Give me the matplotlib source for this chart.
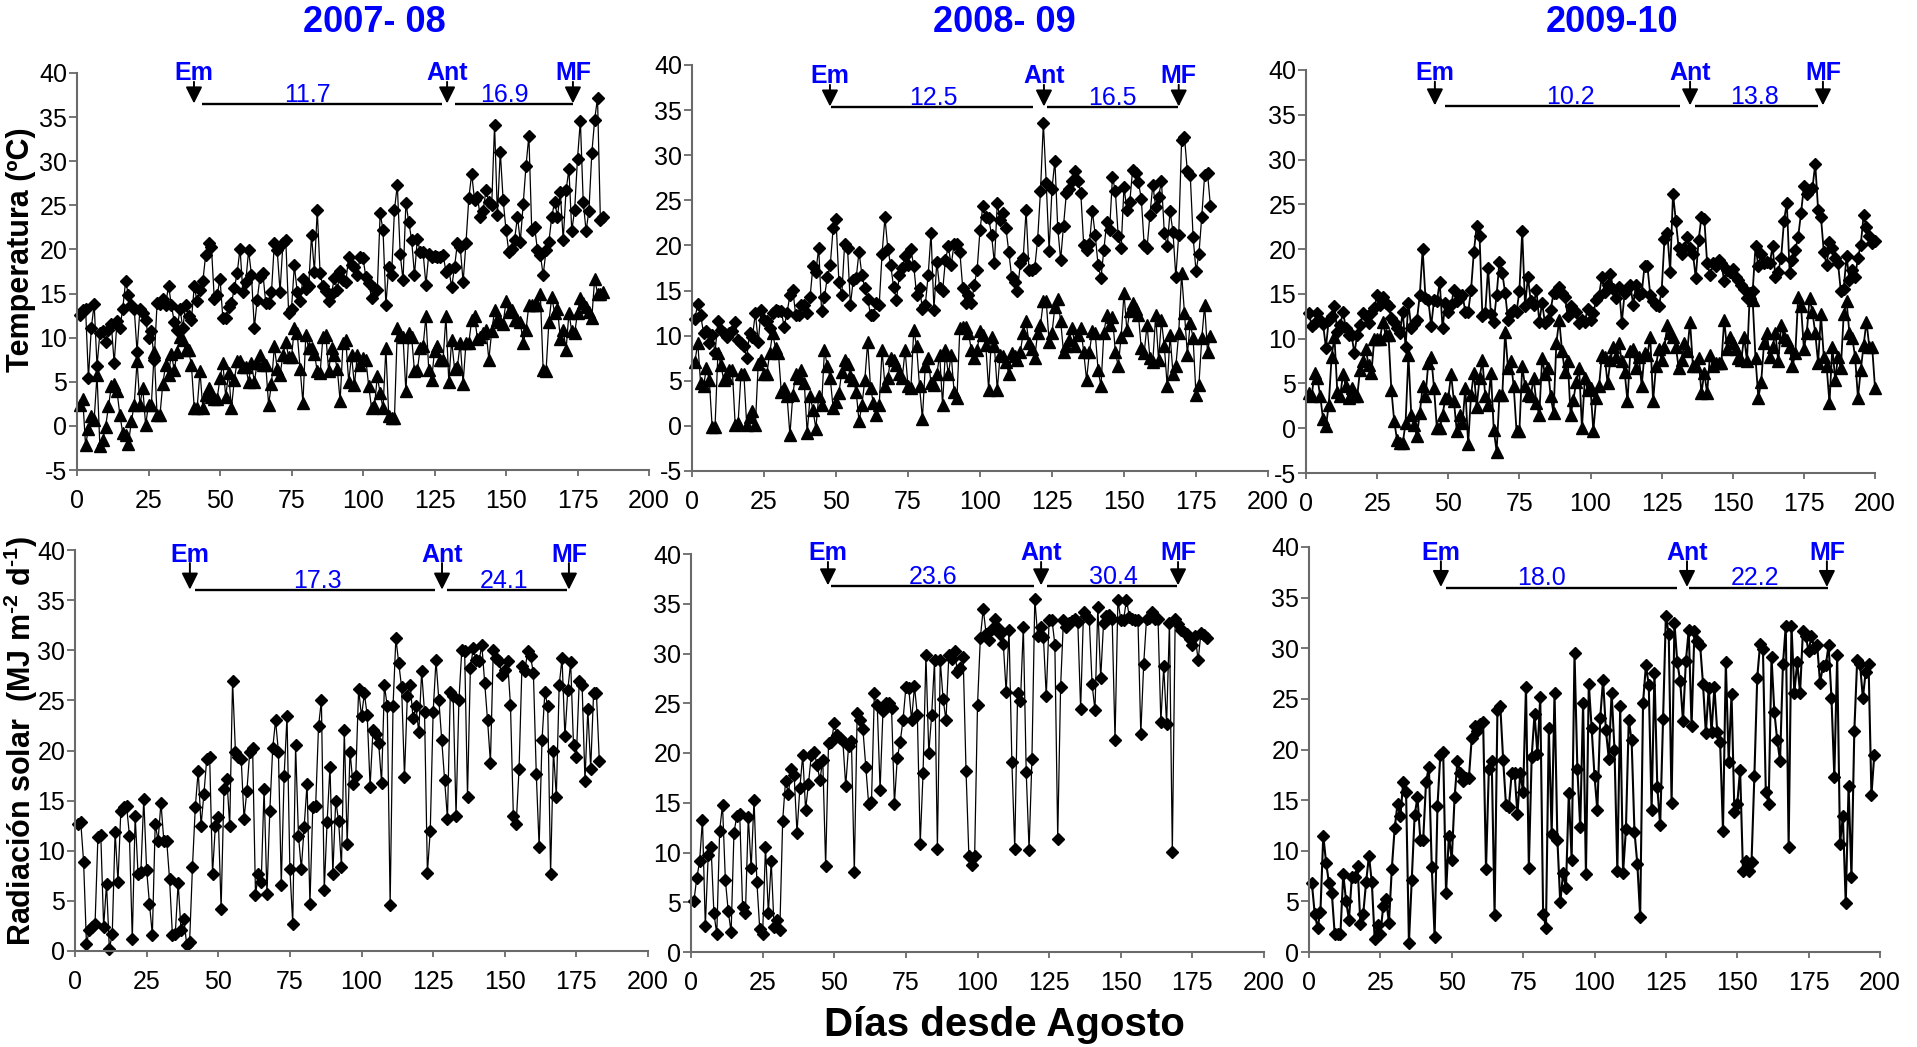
import numpy as np
import matplotlib
matplotlib.use("Agg")
import matplotlib.pyplot as plt

plt.rcParams['font.family'] = ['Liberation Sans', 'DejaVu Sans']
plt.rcParams['mathtext.fontset'] = 'custom'
plt.rcParams['mathtext.rm'] = 'Liberation Sans'
plt.rcParams['mathtext.bf'] = 'Liberation Sans:bold'
plt.rcParams['mathtext.default'] = 'bf'
plt.rcParams['axes.unicode_minus'] = False

# ---------------- data ----------------
seasons = ["2007- 08", "2008- 09", "2009-10"]

tmax_0708 = [12.6,13.1,13.3,5.4,11.1,13.8,6.8,10.5,10.7,9.5,
 10.9,11.5,7.1,11.9,11.1,13.3,16.4,14.8,13.7,13.3,
 8.4,13.2,12.8,12.0,10.0,10.7,7.5,13.9,13.8,14.4,
 13.7,15.9,13.7,11.8,10.9,13.3,11.1,13.7,12.4,12.0,
 15.8,14.1,15.4,16.4,19.4,20.7,20.3,14.4,14.8,16.7,
 12.2,12.2,13.5,13.9,15.6,17.3,20.1,15.2,16.3,19.9,
 17.1,11.1,14.3,16.9,17.3,13.9,13.9,15.2,20.7,19.9,
 15.2,20.7,21.1,12.8,13.3,18.2,15.2,14.1,16.7,15.5,
 15.8,21.6,17.5,24.5,17.3,15.8,15.3,14.1,15.0,16.8,
 15.4,17.6,16.5,16.3,19.2,18.2,18.0,17.1,19.2,19.0,
 16.9,16.2,14.5,15.6,15.4,24.1,22.2,13.7,18.0,17.1,
 24.5,27.3,19.5,16.5,25.3,23.1,21.1,17.1,21.2,19.7,
 19.7,16.0,19.5,19.2,19.3,19.2,19.2,19.4,17.5,17.8,
 15.7,18.0,20.7,20.3,16.3,20.7,25.8,28.6,25.6,26.0,
 23.7,24.4,26.7,25.4,25.0,34.1,23.9,31.1,25.6,22.2,
 19.7,20.1,21.1,23.7,20.9,25.1,29.5,32.9,22.2,22.6,
 19.9,19.4,17.1,19.9,20.9,23.7,25.4,23.7,26.5,21.1,
 26.7,29.1,22.1,24.5,30.3,34.6,25.4,22.1,24.4,30.9,
 34.7,37.2,23.3,23.7]

tmin_0708 = [2.4,3.1,-2.2,-0.3,1.1,0.7,5.8,-2.3,-1.6,-0.1,
 2.2,4.5,4.8,3.9,1.2,-0.8,-1.0,-2.0,0.5,2.4,
 7.3,2.4,4.3,0.1,2.4,2.4,8.4,1.2,1.2,4.8,
 6.9,5.8,8.2,6.3,8.4,10.1,9.7,8.6,8.6,6.9,
 2.0,2.0,6.2,2.0,3.5,4.3,3.3,3.1,3.1,5.4,
 7.1,3.3,6.0,2.0,5.2,7.3,7.3,6.7,6.7,5.0,
 7.1,5.0,7.1,8.0,6.9,6.9,2.4,4.8,9.0,6.5,
 5.8,8.0,9.5,7.8,7.8,11.1,10.5,6.5,2.6,10.3,
 8.8,8.8,8.2,6.2,6.0,10.1,10.3,6.2,8.8,8.0,
 6.5,2.8,9.4,9.7,5.0,8.0,4.6,8.0,6.9,7.7,
 7.5,4.5,2.0,2.2,5.6,3.7,2.0,8.8,1.1,0.9,
 0.9,11.1,10.3,10.1,3.9,10.5,10.1,6.2,6.3,8.8,
 9.0,12.4,6.3,5.2,8.5,9.0,7.5,7.5,12.4,5.0,
 9.7,6.5,6.7,9.4,4.8,9.4,9.4,12.0,12.4,9.9,
 10.1,10.5,10.9,7.5,10.7,13.1,12.0,11.8,11.6,14.1,
 12.9,13.1,12.0,12.0,11.8,9.4,10.9,13.7,13.7,13.7,
 13.7,15.0,6.3,6.2,11.8,14.6,12.8,13.3,9.9,10.9,
 8.6,12.8,10.7,10.5,12.8,14.5,13.9,13.5,12.9,12.2,
 16.7,15.0,15.0,15.2]

tmax_0809 = [11.9,13.5,12.3,10.3,10.5,9.2,10.1,8.1,11.6,10.6,
 10.3,9.9,10.3,10.5,11.5,9.5,9.2,8.8,7.5,10.3,
 9.9,12.5,9.3,12.9,11.7,11.6,10.8,12.5,12.9,12.7,
 12.7,11.0,12.5,14.5,15.1,12.3,12.3,13.4,13.4,12.5,
 14.3,17.7,17.1,19.7,12.7,14.3,16.5,17.8,21.9,22.9,
 16.0,14.5,20.2,19.7,13.4,16.2,16.4,19.3,16.7,15.3,
 14.1,12.3,12.3,13.6,13.4,19.1,23.1,19.6,17.8,15.4,
 14.0,16.7,17.5,18.8,17.8,19.6,17.7,14.5,15.3,13.0,
 13.4,16.7,21.4,12.9,18.2,15.3,14.9,18.4,19.9,17.8,
 20.2,20.2,19.3,15.3,13.6,14.5,13.6,15.6,17.3,21.7,
 24.4,23.2,23.0,21.2,18.0,24.7,22.8,23.6,21.9,19.3,
 16.5,16.0,14.9,18.0,18.6,23.9,17.3,17.3,17.5,20.6,
 26.0,33.6,26.9,19.4,26.3,29.4,21.9,18.4,22.2,25.8,
 26.3,27.1,28.2,27.1,25.8,20.1,19.5,20.2,23.8,21.2,
 17.8,16.4,19.5,22.6,21.7,27.6,26.0,21.0,19.7,26.5,
 23.9,24.8,28.4,28.0,27.0,25.2,20.1,19.7,23.4,26.7,
 24.3,25.4,27.1,21.4,19.9,23.8,21.5,16.5,21.2,31.7,
 32.0,28.2,27.8,20.9,17.2,19.0,23.2,27.8,28.0,24.4]

tmin_0809 = [7.1,9.2,4.7,4.4,6.4,5.1,-0.1,-0.1,8.1,6.8,
 5.1,5.3,6.2,6.2,0.1,0.3,5.7,5.8,0.1,1.0,
 1.6,0.1,6.9,7.3,5.8,5.8,8.1,10.3,8.6,8.1,
 3.8,4.2,3.3,-1.0,3.4,5.8,5.3,6.2,4.7,-0.8,
 3.3,1.8,-0.3,3.3,2.3,8.4,6.6,5.3,2.0,2.7,
 3.6,6.0,7.3,6.9,5.5,5.1,3.8,0.5,2.3,5.1,
 9.3,4.2,2.5,1.2,2.3,8.4,4.4,5.3,7.5,7.3,
 6.8,5.7,5.3,8.4,4.4,4.2,10.6,8.8,4.4,0.8,
 6.6,7.5,4.7,4.5,5.7,7.9,2.3,8.4,5.7,7.9,
 3.8,3.1,10.8,11.0,11.0,10.3,8.4,7.5,8.4,10.5,
 10.1,9.0,4.0,9.9,8.8,4.0,7.9,7.7,7.1,5.8,
 8.1,7.7,7.3,8.2,10.3,11.6,9.2,8.5,7.5,10.3,
 11.2,13.8,13.8,9.3,10.3,13.2,14.1,11.6,8.2,8.8,
 9.5,10.8,8.8,10.1,10.8,8.2,5.1,8.2,10.5,10.3,
 6.2,4.4,10.3,12.3,11.2,12.1,8.2,6.6,9.9,14.7,
 10.6,12.7,13.6,13.0,12.3,8.6,8.1,11.2,7.5,7.1,
 12.3,7.3,11.7,8.8,4.4,10.1,5.8,6.6,10.3,16.9,
 12.5,7.9,11.4,9.7,3.4,4.5,9.7,13.4,8.2,10.0]

tmax_0910 = [12.9,11.4,11.8,12.9,12.1,11.6,9.0,12.1,12.5,13.6,
 10.8,11.5,13.0,11.2,10.4,10.4,8.4,10.4,11.5,12.9,
 12.5,11.7,12.9,13.4,14.9,13.8,14.7,14.0,13.6,12.3,
 11.9,11.2,10.6,13.0,9.1,14.0,11.2,11.6,12.1,14.9,
 20.0,14.5,14.3,11.4,14.3,14.2,16.3,11.2,14.0,13.0,
 13.8,15.4,14.2,14.5,14.9,13.0,13.0,15.4,19.7,22.6,
 21.5,12.5,12.9,17.9,12.7,11.9,14.9,18.6,17.3,15.1,
 12.1,12.9,13.2,13.0,15.3,22.0,13.6,16.9,14.2,13.8,
 15.4,11.9,14.0,11.7,12.1,13.2,15.1,15.1,15.8,15.1,
 14.7,12.5,13.7,13.2,13.0,11.7,12.1,11.9,13.3,12.1,
 12.9,14.3,14.8,16.9,15.2,16.0,17.2,15.5,14.5,15.8,
 11.8,15.1,15.5,16.0,13.8,16.0,14.9,15.1,18.1,18.1,
 14.9,14.2,13.8,13.6,15.3,21.1,21.8,17.5,26.2,23.1,
 20.1,19.5,20.1,21.3,20.1,19.5,16.8,21.0,23.6,23.4,
 18.4,17.1,18.4,18.1,18.8,18.4,16.4,17.7,17.5,17.8,
 16.9,16.6,16.0,15.5,14.5,15.1,15.3,20.3,18.1,19.5,
 18.4,18.6,18.4,20.3,16.9,17.5,19.0,23.1,25.2,17.3,
 18.8,19.9,21.4,24.0,27.0,26.1,26.6,26.8,29.5,24.4,
 23.6,19.7,18.2,20.8,20.1,19.0,18.4,15.3,15.6,19.2,
 16.6,17.7,16.9,19.0,20.5,23.8,22.5,21.5,20.7,20.9]

tmin_0910 = [3.9,3.6,6.2,5.6,3.6,1.0,0.2,2.6,8.0,10.2,
 4.1,3.6,6.0,4.7,3.4,4.5,3.6,3.6,6.5,7.5,
 8.8,7.1,6.2,10.0,10.0,10.0,11.9,10.4,10.4,4.3,
 0.8,-1.3,-1.7,-1.7,0.6,8.2,1.5,0.4,-0.9,1.7,
 4.7,3.6,7.3,8.0,4.5,0.0,0.0,1.5,3.4,3.4,
 6.0,3.0,-0.3,1.5,0.6,4.5,-1.8,3.7,6.2,2.4,
 5.6,7.6,3.6,2.6,6.2,-0.2,-2.6,3.7,3.7,10.8,
 6.7,7.5,4.7,-0.3,-0.3,6.9,4.7,3.7,3.6,5.6,
 2.8,1.5,7.8,6.0,6.7,3.6,1.7,9.5,12.1,8.6,
 6.3,7.5,1.5,3.2,5.2,6.7,0.0,5.6,4.3,4.5,
 -0.3,3.4,4.7,8.2,8.0,5.0,7.6,9.1,8.0,9.5,
 7.5,6.3,3.0,8.6,8.8,6.7,8.0,4.7,8.4,8.2,
 10.2,3.0,6.9,8.9,7.6,9.1,11.5,10.6,10.2,9.1,
 6.7,7.6,9.5,8.6,11.9,6.9,6.9,7.8,3.9,6.2,
 3.9,8.2,6.9,7.3,7.3,7.3,12.1,8.8,10.2,9.5,
 8.8,7.8,7.6,10.2,7.5,15.1,14.3,7.8,3.4,5.2,
 9.5,10.6,8.0,9.1,10.6,7.5,11.5,10.2,9.9,9.1,
 6.9,8.4,14.7,13.6,8.9,10.6,14.5,13.0,10.6,7.3,
 12.7,8.0,6.9,2.8,9.1,5.4,8.0,6.7,12.7,14.2,
 10.6,10.1,8.0,3.4,6.5,9.3,11.9,9.1,9.1,4.5]

rad_0708 = [12.7,12.9,8.9,0.7,2.1,2.4,2.7,11.4,11.6,2.4,
 6.7,0.2,1.7,11.9,6.9,14.0,14.4,14.5,11.5,1.2,
 13.5,7.7,7.9,15.2,8.1,4.7,1.6,12.7,11.0,14.8,
 11.0,11.0,7.2,1.6,1.7,6.8,2.1,3.2,0.6,0.9,
 8.4,14.4,18.0,12.5,15.7,19.2,19.4,7.7,12.5,13.4,
 4.2,16.2,17.2,12.5,26.9,19.9,19.4,19.2,13.2,16.0,
 19.9,20.2,5.6,7.7,6.9,16.2,5.7,14.0,20.2,23.0,
 19.9,6.6,17.5,23.4,8.2,2.7,20.5,11.5,8.2,12.4,
 16.7,4.7,14.4,14.5,22.4,25.0,6.1,12.9,18.4,7.7,
 15.0,13.0,8.4,22.0,10.7,19.9,16.7,17.5,26.1,23.4,
 25.7,23.5,16.4,22.0,21.6,20.7,16.8,26.5,24.4,4.6,
 24.4,31.2,28.7,26.3,17.4,25.4,26.5,23.2,24.4,21.8,
 27.9,23.8,7.8,12.0,23.8,29.0,25.0,21.0,17.1,13.2,
 25.8,25.4,13.5,25.0,30.0,29.9,15.4,28.2,30.2,29.0,
 28.9,30.5,26.7,23.0,18.8,30.0,29.2,28.9,27.5,28.0,
 28.9,24.5,13.5,12.7,18.2,28.4,27.9,29.9,29.4,27.7,
 17.7,10.4,21.0,25.8,24.4,7.7,20.0,15.4,26.5,29.2,
 21.4,26.0,28.8,20.5,19.4,26.9,26.5,17.0,24.1,18.2,
 25.7,25.7,19.0]

rad_0809 = [5.1,7.4,9.1,13.3,2.6,9.7,10.6,3.9,1.8,12.2,
 14.8,7.2,4.1,2.0,12.0,13.7,13.9,4.5,3.9,13.6,
 8.4,15.3,7.0,2.3,1.8,10.6,3.9,9.1,2.5,3.2,
 2.2,13.2,17.2,15.9,18.4,17.8,12.0,16.5,19.8,14.3,
 16.9,19.8,20.1,18.8,17.3,19.3,8.6,21.0,21.1,23.0,
 21.8,21.5,21.2,16.7,20.7,21.2,8.0,24.0,23.3,22.4,
 18.6,14.9,15.1,26.0,24.8,16.3,24.2,25.0,25.0,24.5,
 14.9,19.5,21.1,23.3,26.6,26.5,23.3,26.7,23.8,10.9,
 18.0,29.8,20.0,23.8,29.3,10.4,29.3,25.4,23.3,29.8,
 29.4,30.3,28.1,28.5,29.6,18.2,9.6,8.7,9.6,24.8,
 31.6,34.5,32.0,31.4,32.5,33.5,32.6,32.0,31.0,26.1,
 32.4,19.1,10.4,26.0,25.2,32.7,18.1,10.3,19.4,35.5,
 31.8,32.7,31.7,25.7,33.4,33.4,30.9,11.4,26.6,33.4,
 32.7,33.1,33.3,33.5,33.2,24.4,34.2,33.8,33.5,26.9,
 24.3,34.7,27.5,33.1,33.8,33.9,33.5,21.3,35.4,33.4,
 33.4,35.4,33.7,33.5,33.4,33.4,21.9,28.9,33.5,33.6,
 34.2,33.5,33.5,23.1,28.7,22.9,33.1,10.1,33.5,33.0,
 32.4,32.2,32.0,31.5,30.9,31.8,29.3,32.1,31.9,31.6]

rad_0910 = [6.8,3.8,2.4,4.0,11.5,8.8,6.8,5.8,1.8,1.8,
 1.8,7.7,5.0,3.2,7.4,7.4,8.5,2.8,3.8,6.9,
 9.5,6.9,1.3,2.7,1.8,4.5,5.2,2.9,8.2,12.2,
 14.6,13.4,16.8,15.8,0.9,7.1,13.5,15.3,11.1,11.1,
 16.8,18.3,8.4,1.5,14.4,19.5,19.8,5.8,11.5,9.1,
 15.3,18.9,17.7,16.9,17.2,17.2,21.1,22.3,21.8,22.5,
 22.7,8.2,18.1,18.9,3.7,23.9,24.3,19.0,14.5,14.3,
 17.7,17.7,13.6,17.7,15.8,26.2,8.3,19.3,23.5,19.6,
 25.2,3.8,2.4,22.1,11.7,25.6,11.1,4.9,7.8,6.3,
 15.7,9.1,29.5,18.1,12.3,24.6,7.7,26.5,22.1,17.4,
 14.0,23.1,26.9,21.9,19.1,25.6,20.0,8.0,24.3,7.8,
 12.1,22.9,20.9,11.9,8.7,3.5,24.6,28.3,26.4,14.0,
 27.6,16.3,12.5,23.0,33.2,31.4,14.7,32.5,28.6,26.8,
 22.8,28.7,31.8,22.3,31.7,30.7,30.3,26.5,21.6,26.1,
 21.7,26.2,21.7,20.7,12.0,28.6,18.8,25.5,13.8,14.6,
 18.0,8.0,9.0,8.0,8.9,17.4,27.1,30.4,29.9,15.8,
 14.6,29.1,23.7,20.9,18.9,28.4,32.2,10.4,32.2,25.6,
 28.6,25.6,31.7,31.2,29.7,31.2,30.0,30.3,26.6,28.2,
 28.3,30.3,25.1,17.3,29.3,10.7,13.4,4.8,16.4,7.4,
 21.8,28.8,28.4,25.1,27.7,28.4,15.5,19.5]

# phenology (days since August): Em, Ant, MF  and mean values per phase
temp_stages = [(40.9, 129.4, 173.4), (47.9, 122.2, 169.0), (45.3, 135.0, 181.7)]
temp_phase_values = [("11.7", "16.9"), ("12.5", "16.5"), ("10.2", "13.8")]
rad_stages = [(40.1, 128.1, 172.4), (47.8, 122.2, 170.0), (46.2, 132.4, 181.4)]
rad_phase_values = [("17.3", "24.1"), ("23.6", "30.4"), ("18.0", "22.2")]

tmax_all = [tmax_0708, tmax_0809, tmax_0910]
tmin_all = [tmin_0708, tmin_0809, tmin_0910]
rad_all = [rad_0708, rad_0809, rad_0910]

xticks = [0, 25, 50, 75, 100, 125, 150, 175, 200]

# ---------------- layout ----------------
W, H = 1917, 1047
fig = plt.figure(figsize=(W / 100, H / 100), dpi=100)

def px_axes(l, t, r, b):
    return fig.add_axes([l / W, 1 - b / H, (r - l) / W, (b - t) / H])

top_px = [(77, 73, 649, 470), (692, 65, 1268, 471), (1306, 70, 1875, 473)]
bot_px = [(75, 550, 648, 951), (691, 554, 1264, 952), (1309, 547, 1880, 952)]
# annotation geometry per panel: (text base y, line y, seg1, seg2, label x1, label x2)
top_geo = [(39.0, 36.5, (43.7, 127.6), (132.2, 173.4), 80.4, 149.3),
           (37.8, 35.35, (48.3, 118.5), (123.3, 168.8), 83.7, 146.0),
           (38.7, 36.0, (48.9, 131.5), (136.7, 180.0), 92.8, 157.8)]
bot_geo = [(38.7, 36.0, (41.9, 125.6), (129.8, 171.7), 84.5, 149.7),
           (39.2, 36.8, (48.9, 119.7), (124.2, 169.6), 84.5, 147.3),
           (38.6, 36.0, (48.0, 129.0), (133.1, 181.8), 81.6, 156.2)]

SPINE = '#6a6a6a'
BLUE = '#0000FF'

def style(ax, ylim, yticks):
    ax.set_xlim(0, 200)
    ax.set_ylim(*ylim)
    ax.set_xticks(xticks)
    ax.set_yticks(yticks)
    for s in ['top', 'right']:
        ax.spines[s].set_visible(False)
    for s in ['left', 'bottom']:
        ax.spines[s].set_color(SPINE)
        ax.spines[s].set_linewidth(1.5)
    ax.tick_params(axis='x', direction='out', length=4.5, width=1.3,
                   color=SPINE, labelsize=18, pad=9)
    ax.tick_params(axis='y', direction='out', length=5.5, width=1.3,
                   color=SPINE, labelsize=18, pad=1.5)
    ax.patch.set_alpha(0)

def phases(ax, stages, vals, geo):
    ytext, yline, seg1, seg2, lx1, lx2 = geo
    for x, name in zip(stages, ["Em", "Ant", "MF"]):
        ax.annotate('', xy=(x, yline + 0.05), xytext=(x, ytext),
                    arrowprops=dict(arrowstyle='-|>', color='k', lw=1.4,
                                    mutation_scale=25, shrinkA=0, shrinkB=0),
                    annotation_clip=False)
        ax.text(x, ytext + 0.15, name, color=BLUE, fontweight='bold', fontsize=18,
                ha='center', va='baseline', clip_on=False)
    ax.plot(seg1, [yline, yline], color='k', lw=1.7, clip_on=False,
            solid_capstyle='butt')
    ax.plot(seg2, [yline, yline], color='k', lw=1.7, clip_on=False,
            solid_capstyle='butt')
    ax.text(lx1, yline + 0.2, vals[0], color=BLUE, fontsize=18,
            ha='center', va='baseline')
    ax.text(lx2, yline + 0.2, vals[1], color=BLUE, fontsize=18,
            ha='center', va='baseline')

for i in range(3):
    ax = px_axes(*top_px[i])
    tx = tmax_all[i]
    tn = tmin_all[i]
    lw = 1.3 if i == 2 else 0.9
    ax.plot(np.arange(1, len(tx) + 1), tx, color='k', lw=lw, marker='D',
            ms=6, mfc='k', mec='k', clip_on=False)
    ax.plot(np.arange(1, len(tn) + 1), tn, color='k', lw=lw, marker='^',
            ms=8, mfc='k', mec='k', clip_on=False)
    style(ax, (-5, 40), list(range(-5, 41, 5)))
    phases(ax, temp_stages[i], temp_phase_values[i], top_geo[i])

    axb = px_axes(*bot_px[i])
    rd = rad_all[i]
    lwb = 1.5 if i == 2 else 0.9
    axb.plot(np.arange(1, len(rd) + 1), rd, color='k', lw=lwb, marker='D',
             ms=6, mfc='k', mec='k', clip_on=False)
    style(axb, (0, 40), list(range(0, 41, 5)))
    phases(axb, rad_stages[i], rad_phase_values[i], bot_geo[i])

# titles
title_x = [374, 1004, 1612]
for s, x in zip(seasons, title_x):
    fig.text(x / W, 1 - 22 / H, s, color=BLUE, fontsize=26, fontweight='bold',
             ha='center', va='center')

fig.text(21 / W, 1 - 250 / H, "Temperatura (ºC)", rotation=90, fontsize=22,
         fontweight='bold', ha='center', va='center')
fig.text(21 / W, 1 - 741 / H, "Radiación solar  (MJ m$^{\u2010 2}$ d$^{\u2010 1}$)".replace('\u2010 ', '\u2010'),
         rotation=90, fontsize=22, fontweight='bold', ha='center', va='center')
fig.text(1004 / W, 1 - 1025 / H, "Días desde Agosto", fontsize=29,
         fontweight='bold', ha='center', va='center')

fig.savefig("out.png", dpi=100)
